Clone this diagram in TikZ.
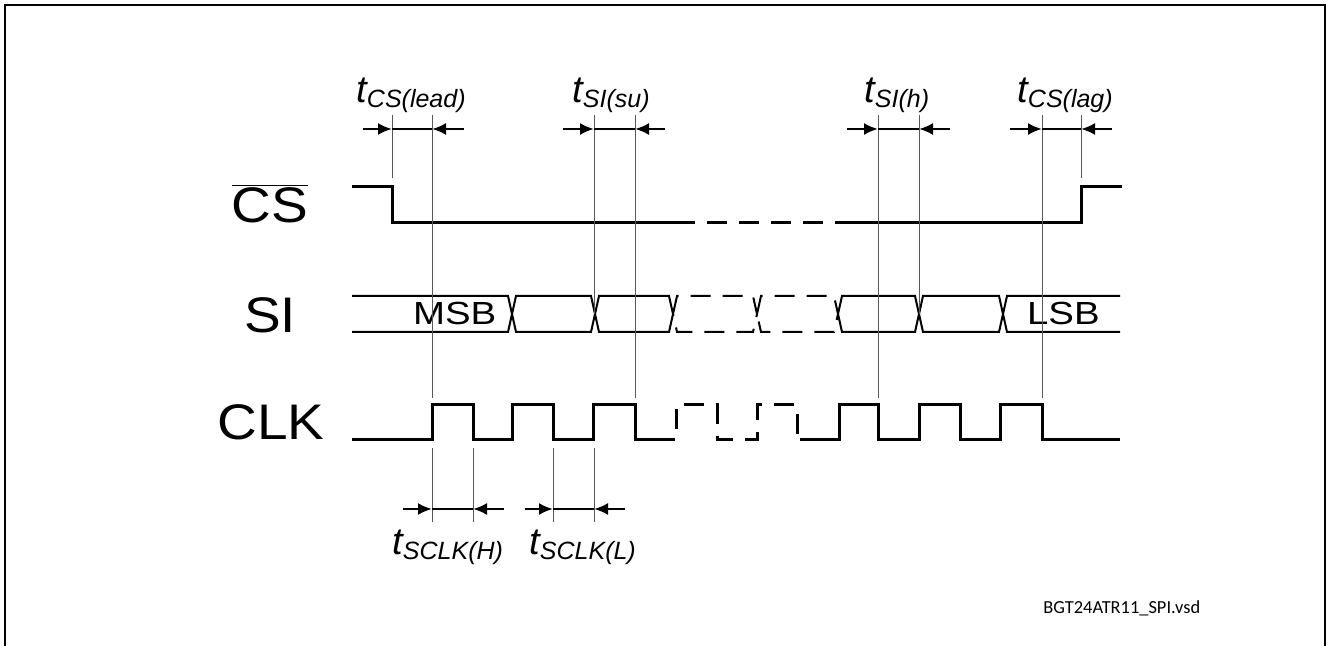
\documentclass[tikz,border=0pt]{standalone}
\usepackage{fontspec}
\setmainfont{Liberation Sans}
\newfontfamily\sigfont[FakeStretch=1.1]{Liberation Sans}
\newfontfamily\bitfont[FakeStretch=1.2]{Liberation Sans}
\newfontfamily\vsdfont{Carlito}
\usetikzlibrary{arrows.meta,calc}
\tikzset{
%Define standard arrow tip
>={Latex[length=7pt, width=6pt]},
%Define styles for the waveforms
signal/.style={line width=1.5pt},
bus line/.style={line width=1pt},
broken/.style={dash pattern=on 10pt off 6pt},
%Define styles for the timing marks
guide line/.style={gray!70!black, line width=0.5pt},
timing arrow/.style={line width=1.1pt},
sig label/.style={font=\sigfont\fontsize{25}{25}\selectfont, anchor=base},
bit label/.style={font=\bitfont\fontsize{16}{16}\selectfont, anchor=base west},
time label/.style={anchor=base west, inner sep=0pt},
}
% Timing label: a big t with a lowered index
\newcommand{\tlab}[1]{{\fontsize{19}{19}\selectfont\itshape t}\raisebox{-2.5pt}{\fontsize{12.5}{12.5}\selectfont\itshape #1}}

\begin{document}
\begin{tikzpicture}[x=0.5pt, y=-0.5pt]
    \useasboundingbox (0,0) rectangle (1329,646);
    % Frame, open at the bottom
    \draw[line width=0.75pt] (5,646) -- (5,5) -- (1325,5) -- (1325,646);

    % Signal names
    \node[sig label] (cs) at (270,223) {$\overline{\mbox{CS}}$};
    \node[sig label] (si) at (270,333) {SI};
    \node[sig label] (clk) at (271,440) {CLK};

    % Chip select
    \draw[signal] (352,187) -| (392,223) -- (675,223);
    \draw[signal, broken] (675,223) -- (838,223);
    \draw[signal] (838,223) -- (1081,223) |- (1122,187);

    % Serial input bus
    \draw[bus line] (352,296) -- (508,296) -- (512,314) -- (508,332) -- (352,332);
    \foreach \a/\b in {512/595, 595/673, 838/919, 919/1003}
      \draw[bus line] (\a,314) -- (\a+4,296) -- (\b-4,296) -- (\b,314)
        -- (\b-4,332) -- (\a+4,332) -- cycle;
    \foreach \a/\b in {673/757, 757/838}
      \draw[bus line, broken] (\a,314) -- (\a+4,296) -- (\b-4,296) -- (\b,314)
        -- (\b-4,332) -- (\a+4,332) -- cycle;
    \draw[bus line] (1120,296) -- (1007,296) -- (1003,314) -- (1007,332) -- (1120,332);
    \node[bit label] (msb) at (406,325) {MSB};
    \node[bit label] (lsb) at (1020,325) {LSB};

    % Clock
    \draw[signal] (352,440) -- (432,440) |- (473,405) |- (512,440) |- (553,405)
      |- (593,440) |- (635,405) |- (655,440);
    \draw[signal, broken] (655,440) -| (676,405) -| (717,440) -| (757,405)
      -| (797,440) -- (800,440);
    \draw[signal] (800,440) -| (839,405) -| (878,440) -| (919,405) -| (960,440)
      -| (1000,405) -| (1042,440) -- (1120,440);

    % Guide lines
    \draw[guide line] (392,115) -- (392,178)
      (432,115) -- (432,398) (432,448) -- (432,522)
      (594,115) -- (594,314) (635,115) -- (635,398)
      (473,448) -- (473,522) (553,448) -- (553,522) (594,448) -- (594,522)
      (878,115) -- (878,398) (919,115) -- (919,314)
      (1042,115) -- (1042,398) (1081,115) -- (1081,178);

    % Timing arrows: outer start, inner tip, inner tip, outer start
    \foreach \n/\xa/\xb/\xc/\xd/\y in {lead/363/392/432/464/129,
        su/563/594/635/665/129, h/847/878/919/950/129, lag/1010/1042/1081/1112/129,
        high/403/432/473/504/509, low/525/553/594/625/509}{
      \path coordinate (\n 0) at (\xa,\y) coordinate (\n 1) at (\xb,\y)
        coordinate (\n 2) at (\xc,\y) coordinate (\n 3) at (\xd,\y);
      \draw[timing arrow, ->] (\n 0) -- (\n 1);
      \draw[timing arrow] (\n 1) -- (\n 2);
      \draw[timing arrow, ->] (\n 3) -- (\n 2);
    }

    % Timing labels
    \node[time label] (t lead) at (356,103) {\tlab{CS(lead)}};
    \node[time label] (t su) at (572,103) {\tlab{SI(su)}};
    \node[time label] (t h) at (864,103) {\tlab{SI(h)}};
    \node[time label] (t lag) at (1017,103) {\tlab{CS(lag)}};
    \node[time label] (t high) at (392,555) {\tlab{SCLK(H)}};
    \node[time label] (t low) at (529,555) {\tlab{SCLK(L)}};

    % File name
    \node[anchor=base west, inner sep=0pt, font=\vsdfont\fontsize{9.2}{11}\selectfont]
      (file) at (1043,614) {BGT24ATR11\_SPI.vsd};
\end{tikzpicture}
\end{document}
